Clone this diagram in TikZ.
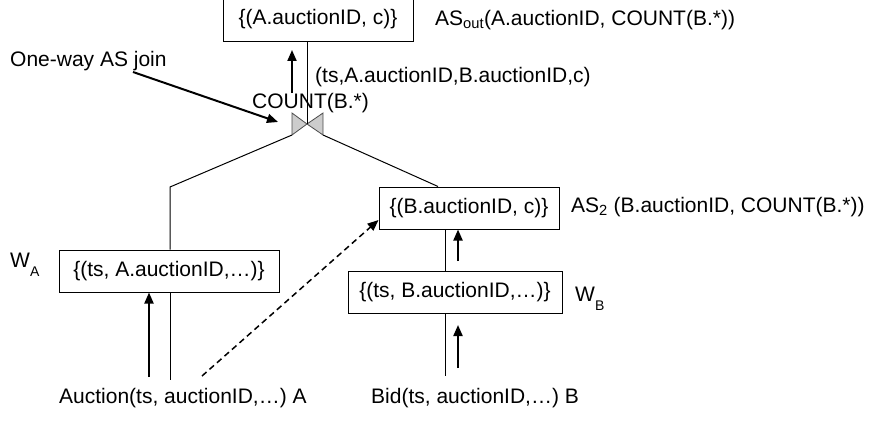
\documentclass[tikz,border=0pt]{standalone}
\usepackage{fontspec}
\setmainfont{Liberation Sans}
\usetikzlibrary{arrows.meta}

\newcommand{\lowsub}[1]{\raisebox{-9pt}{\fontsize{14}{14}\selectfont #1}}

\tikzset{
  box/.style={draw, black, line width=1pt, inner sep=0pt, minimum height=42pt},
  lbl/.style={anchor=west, inner sep=0pt},
  wire/.style={black, line width=1pt},
  flow/.style={black, line width=2pt, -{Triangle[length=11pt, width=9pt]}},
  probe/.style={black, line width=1.5pt, dash pattern=on 6pt off 4pt, -{Triangle[length=11pt, width=9pt]}}
}

\begin{document}
\begin{tikzpicture}[x=1pt, y=-1pt, font=\fontsize{21}{25}\selectfont]
\useasboundingbox (0,0) rectangle (875,428);

\node[box, minimum width=190pt, minimum height=45pt] (outBox) at (318,19) {\{(A.auctionID, c)\}};
\node[box, minimum width=220pt] (winA) at (169,271) {\{(ts, A.auctionID,…)\}};
\node[box, minimum width=180pt] (aggB) at (469,208) {\{(B.auctionID, c)\}};
\node[box, minimum width=214pt] (winB) at (455,292) {\{(ts, B.auctionID,…)\}};

\coordinate (join) at (307,124);
\coordinate (joinL) at (292,135);
\coordinate (joinR) at (323,135);
\filldraw[fill=gray!40, draw=gray!60!black, line width=0.8pt]
  (292,113) -- (joinL) -- (join) -- cycle
  (323,113) -- (joinR) -- (join) -- cycle;

\node[lbl] (joinLbl) at (10,61) {One-way AS join};
\node[lbl] (tupLbl) at (315,77) {(ts,A.auctionID,B.auctionID,c)};
\node[lbl] (cntLbl) at (252,103) {COUNT(B.*)};
\node[lbl] (outLbl) at (435,20) {AS\textsubscript{out}(A.auctionID, COUNT(B.*))};
\node[lbl] (aggLbl) at (571,207) {AS\textsubscript{2} (B.auctionID, COUNT(B.*))};
\node[lbl, anchor=base west] (wA) at (10,267) {W\lowsub{A}};
\node[lbl, anchor=base west] (wB) at (575,301) {W\lowsub{B}};
\node[lbl] (srcA) at (59,398) {Auction(ts, auctionID,…) A};
\node[lbl] (srcB) at (371,398) {Bid(ts, auctionID,…) B};

\coordinate (bendA) at (170,187);
\coordinate (endA) at (170,380);
\coordinate (endB) at (445,376);

\draw[wire] (outBox.south -| join) -- (join);
\draw[wire] (joinL) -- (bendA) -- (bendA |- winA.north);
\draw[wire] (endA |- winA.south) -- (endA);
\draw[wire] (joinR) -- ([xshift=-31pt]aggB.north);
\draw[wire] (endB |- aggB.south) -- (endB |- winB.north);
\draw[wire] (endB |- winB.south) -- (endB);

\coordinate (upOut) at (292,93);
\coordinate (tipOut) at (292,50);
\coordinate (upA) at (149,377);
\coordinate (upB) at (458,368);
\coordinate (tipB) at (458,325);
\coordinate (upAgg) at (458,261);
\coordinate (ptrStart) at (133,72);
\coordinate (ptrEnd) at (278,122);
\coordinate (probeStart) at (202,376);

\draw[flow] (upOut) -- (tipOut);
\draw[flow] (upA) -- (upA |- winA.south);
\draw[flow] (upB) -- (tipB);
\draw[flow] (upAgg) -- (upAgg |- aggB.south);
\draw[flow] (ptrStart) -- (ptrEnd);
\draw[probe] (probeStart) -- ([yshift=-12pt]aggB.west);
\end{tikzpicture}
\end{document}
